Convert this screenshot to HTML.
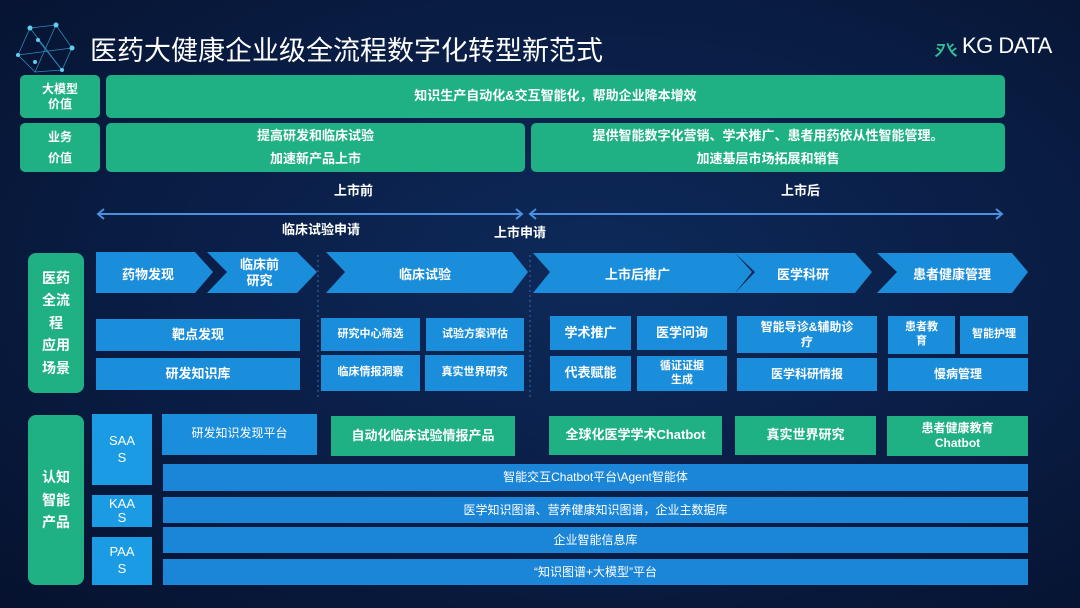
<!DOCTYPE html>
<html><head><meta charset="utf-8">
<style>
*{margin:0;padding:0;box-sizing:border-box}
body{width:1080px;height:608px;overflow:hidden;position:relative;font-family:"Liberation Sans","Noto Sans CJK SC",sans-serif;color:#fff;
background:radial-gradient(ellipse at 55% 45%,#0e2a5a 0%,#0a1f48 45%,#06122e 100%);}
.a{position:absolute;display:flex;align-items:center;justify-content:center;text-align:center;line-height:1.25;font-weight:bold}
.g{background:#1fb184;border-radius:5px}
.b{background:#1b8edb}
.lb{background:#1a9be3}
.bar{background:#1b86d8}
.t{position:absolute;font-size:13px;font-weight:bold;color:#fff;white-space:nowrap}
</style></head><body>
<svg width="1080" height="608" style="position:absolute;left:0;top:0">
 <g stroke="#3aa6d8" stroke-width="0.8" fill="none" opacity="0.8">
  <polyline points="30,28 56,25 72,48 62,70 35,72 18,55 30,28"/>
  <line x1="30" y1="28" x2="62" y2="70"/><line x1="56" y1="25" x2="35" y2="72"/><line x1="18" y1="55" x2="72" y2="48"/><line x1="38" y1="40" x2="62" y2="70"/>
 </g>
 <g fill="#5fd0f0"><circle cx="30" cy="28" r="2.5"/><circle cx="56" cy="25" r="2.5"/><circle cx="72" cy="48" r="2.5"/><circle cx="62" cy="70" r="2"/><circle cx="35" cy="62" r="2"/><circle cx="18" cy="55" r="2"/><circle cx="38" cy="40" r="2"/></g>
 <g stroke="#4a8fe0" stroke-width="2" fill="none">
  <line x1="98" y1="214" x2="522" y2="214"/><line x1="530" y1="214" x2="1002" y2="214"/>
  <polyline points="104,209 98,214 104,219"/><polyline points="516,209 522,214 516,219"/>
  <polyline points="536,209 530,214 536,219"/><polyline points="996,209 1002,214 996,219"/>
 </g>
 <g stroke="#3a6ab0" stroke-width="1" stroke-dasharray="2,3">
  <line x1="318" y1="255" x2="318" y2="398"/><line x1="530" y1="255" x2="530" y2="398"/>
 </g>
 <g fill="#1b8edb">
  <polygon points="96,252 195,252 213,272 195,293 96,293"/>
  <polygon points="207,252 297,252 317,272 297,293 207,293 227,272"/>
  <polygon points="326,252 512,252 528,272 512,293 326,293 345,272"/>
  <polygon points="533,253 735,253 752,272 735,293 533,293 550,272"/>
  <polygon points="735,253 855,253 872,272 855,293 735,293 755,272"/>
  <polygon points="877,253 1012,253 1028,272 1012,293 877,293 897,272"/>
 </g>
</svg>
<div class="t" style="left:90px;top:29px;font-size:27px;font-weight:normal">医药大健康企业级全流程数字化转型新范式</div>
<div class="t" style="left:934px;top:32px;font-size:24px;font-weight:normal;color:#2fc39a">⽨</div>
<div class="t" style="left:962px;top:33px;font-size:22px;font-weight:normal;letter-spacing:-0.5px">KG DATA</div>

<div class="a g" style="left:20px;top:75px;width:80px;height:43px;font-size:12px">大模型<br>价值</div>
<div class="a g" style="left:106px;top:75px;width:899px;height:43px;font-size:13px">知识生产自动化&amp;交互智能化，帮助企业降本增效</div>
<div class="a g" style="left:20px;top:123px;width:80px;height:49px;font-size:12px;line-height:1.7">业务<br>价值</div>
<div class="a g" style="left:106px;top:123px;width:419px;height:49px;font-size:13px;line-height:1.7">提高研发和临床试验<br>加速新产品上市</div>
<div class="a g" style="left:531px;top:123px;width:474px;height:49px;font-size:13px;line-height:1.7">提供智能数字化营销、学术推广、患者用药依从性智能管理。<br>加速基层市场拓展和销售</div>
<div class="t" style="left:334px;top:180px">上市前</div>
<div class="t" style="left:781px;top:180px">上市后</div>
<div class="t" style="left:282px;top:219px">临床试验申请</div>
<div class="t" style="left:494px;top:222px">上市申请</div>

<div class="a g" style="left:28px;top:253px;width:56px;height:140px;font-size:14px;line-height:1.6;border-radius:8px">医药<br>全流<br>程<br>应用<br>场景</div>
<div class="t" style="left:122px;top:264px">药物发现</div>
<div class="t" style="left:240px;top:257px;text-align:center;line-height:1.2">临床前<br>研究</div>
<div class="t" style="left:399px;top:264px">临床试验</div>
<div class="t" style="left:605px;top:264px">上市后推广</div>
<div class="t" style="left:777px;top:264px">医学科研</div>
<div class="t" style="left:913px;top:264px">患者健康管理</div>

<div class="a b" style="left:96px;top:319px;width:204px;height:32px;font-size:13px">靶点发现</div>
<div class="a b" style="left:96px;top:358px;width:204px;height:32px;font-size:13px">研发知识库</div>
<div class="a b" style="left:321px;top:318px;width:99px;height:33px;font-size:11px">研究中心筛选</div>
<div class="a b" style="left:426px;top:318px;width:98px;height:33px;font-size:11px">试验方案评估</div>
<div class="a b" style="left:321px;top:355px;width:99px;height:36px;font-size:11px">临床情报洞察</div>
<div class="a b" style="left:425px;top:355px;width:99px;height:36px;font-size:11px">真实世界研究</div>
<div class="a b" style="left:550px;top:316px;width:81px;height:34px;font-size:13px">学术推广</div>
<div class="a b" style="left:637px;top:316px;width:90px;height:34px;font-size:13px">医学问询</div>
<div class="a b" style="left:550px;top:356px;width:81px;height:35px;font-size:13px">代表赋能</div>
<div class="a b" style="left:637px;top:356px;width:90px;height:35px;font-size:11px">循证证据<br>生成</div>
<div class="a b" style="left:737px;top:316px;width:140px;height:37px;font-size:12px">智能导诊&amp;辅助诊<br>疗</div>
<div class="a b" style="left:737px;top:358px;width:140px;height:33px;font-size:12px">医学科研情报</div>
<div class="a b" style="left:888px;top:316px;width:67px;height:38px;font-size:11px">患者教<br>育</div>
<div class="a b" style="left:960px;top:316px;width:68px;height:38px;font-size:11px">智能护理</div>
<div class="a b" style="left:888px;top:358px;width:140px;height:33px;font-size:12px">慢病管理</div>

<div class="a g" style="left:28px;top:415px;width:56px;height:170px;font-size:14px;line-height:1.6;border-radius:8px">认知<br>智能<br>产品</div>
<div class="a lb" style="left:92px;top:414px;width:60px;height:71px;font-size:13px;font-weight:normal;line-height:1.3">SAA<br>S</div>
<div class="a lb" style="left:92px;top:495px;width:60px;height:32px;font-size:13px;font-weight:normal;line-height:1.1">KAA<br>S</div>
<div class="a lb" style="left:92px;top:537px;width:60px;height:48px;font-size:13px;font-weight:normal;line-height:1.3">PAA<br>S</div>
<div class="a b" style="left:162px;top:414px;width:155px;height:41px;font-size:12px;font-weight:normal;align-items:flex-start;padding-top:12px">研发知识发现平台</div>
<div class="a g" style="left:331px;top:416px;width:184px;height:40px;font-size:13px;border-radius:0">自动化临床试验情报产品</div>
<div class="a g" style="left:549px;top:416px;width:173px;height:39px;font-size:13px;border-radius:0">全球化医学学术Chatbot</div>
<div class="a g" style="left:735px;top:416px;width:141px;height:39px;font-size:13px;border-radius:0">真实世界研究</div>
<div class="a g" style="left:887px;top:416px;width:141px;height:40px;font-size:12px;border-radius:0">患者健康教育<br>Chatbot</div>
<div class="a bar" style="left:163px;top:464px;width:865px;height:27px;font-size:12px;font-weight:normal">智能交互Chatbot平台\Agent智能体</div>
<div class="a bar" style="left:163px;top:497px;width:865px;height:26px;font-size:12px;font-weight:normal">医学知识图谱、营养健康知识图谱，企业主数据库</div>
<div class="a bar" style="left:163px;top:527px;width:865px;height:26px;font-size:12px;font-weight:normal">企业智能信息库</div>
<div class="a bar" style="left:163px;top:559px;width:865px;height:26px;font-size:12px;font-weight:normal">“知识图谱+大模型”平台</div>
</body></html>
